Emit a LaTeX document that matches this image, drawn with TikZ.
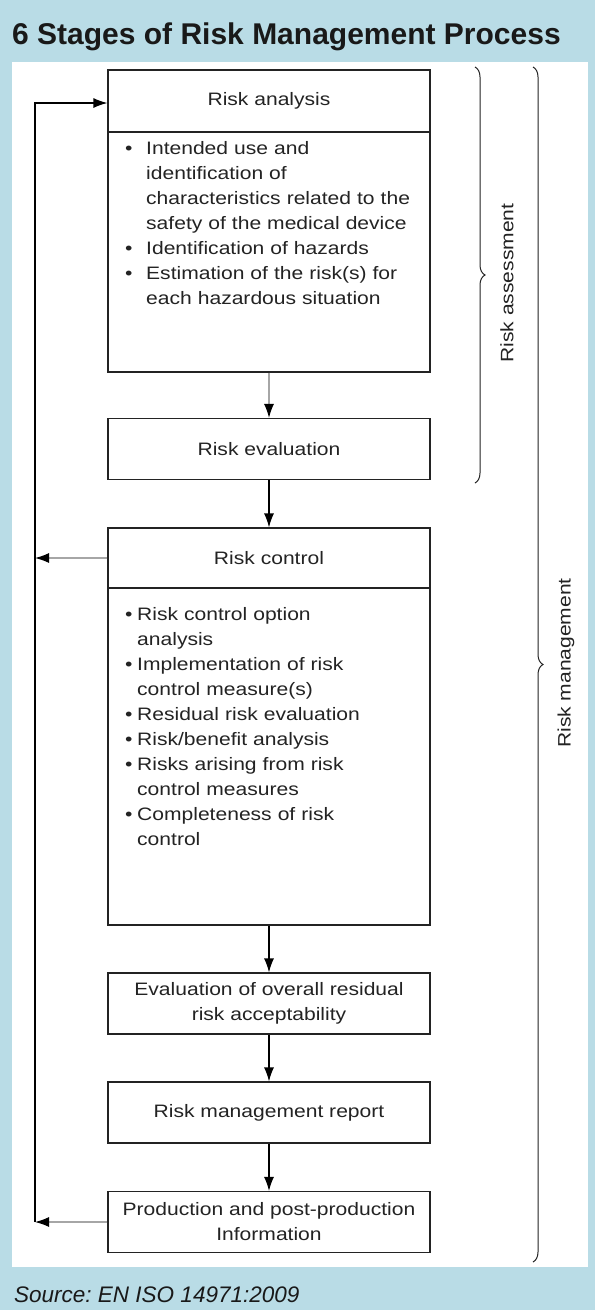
\documentclass[tikz,border=0pt]{standalone}
\usepackage{fontspec}
\setmainfont{Liberation Sans}
\newfontfamily\boxfont[FakeStretch=1.17]{Liberation Sans}
\usetikzlibrary{arrows.meta,decorations.pathreplacing,positioning}
\definecolor{panelblue}{RGB}{185,220,230}
\definecolor{inkgray}{RGB}{35,35,35}
\frenchspacing
\newcommand{\bitem}[2]{\noindent\hangindent=#1\hangafter=1\makebox[#1][l]{\textbullet}#2\par}
\tikzset{
  stagebox/.style={draw=inkgray, line width=1.2pt, minimum width=322pt, inner sep=0pt,
    align=center, text=inkgray, font=\boxfont\fontsize{18}{25}\selectfont},
  stagetext/.style={inner sep=0pt, align=center, text=inkgray, font=\boxfont\fontsize{18}{25}\selectfont},
  listtext/.style={inner sep=0pt, align=left, text width=295pt, anchor=north west,
    text=inkgray, font=\boxfont\fontsize{18}{25}\selectfont},
  flow/.style={draw=black, line width=1.2pt, -{Latex[length=14pt,width=10pt,color=black]}},
  feedflow/.style={flow, draw=black!35},
  bracket/.style={decorate, decoration={brace, amplitude=10pt}, draw=inkgray, line width=1pt}
}
\begin{document}
\begin{tikzpicture}[x=1pt, y=-1pt]
   \useasboundingbox (0,0) rectangle (595,1310);
   \fill[panelblue] (0,0) rectangle (595,1310);
   \fill[white] (12,62) rectangle (588,1267);
   \node[anchor=base west, inner sep=0pt, font=\bfseries\fontsize{30}{30}\selectfont, text=black!90] (title) at (12,44) {6 Stages of Risk Management Process};
   \node[anchor=base west, inner sep=0pt, font=\itshape\fontsize{22.5}{22.5}\selectfont, text=black!90] (source) at (14,1302) {Source: EN ISO 14971:2009};
   % risk analysis
   \node[stagebox, minimum height=302pt] (analysis) at (269,221) {};
   \node[stagetext] (analysishead) at (269,101) {Risk analysis};
   \draw[inkgray, line width=1.2pt] (analysis.west |- 0,132) -- (analysis.east |- 0,132);
   \node[listtext] (analysislist) at (125,141) {%
     \bitem{21pt}{Intended use and\newline identification of\newline characteristics related to the\newline safety of the medical device}
     \bitem{21pt}{Identification of hazards}
     \bitem{21pt}{Estimation of the risk(s) for\newline each hazardous situation}};
   % risk control
   \node[stagebox, minimum height=397pt] (control) at (269,726.5) {};
   \node[stagetext] (controlhead) at (269,558) {Risk control};
   \draw[inkgray, line width=1.2pt] (control.west |- 0,588) -- (control.east |- 0,588);
   \node[listtext] (controllist) at (125,607) {%
     \bitem{12pt}{Risk control option\newline analysis}
     \bitem{12pt}{Implementation of risk\newline control measure(s)}
     \bitem{12pt}{Residual risk evaluation}
     \bitem{12pt}{Risk/benefit analysis}
     \bitem{12pt}{Risks arising from risk\newline control measures}
     \bitem{12pt}{Completeness of risk\newline control}};
   % single stages
   \foreach \ypos/\name/\txt in {449/evaluation/{Risk evaluation},
       1003.5/overall/{Evaluation of overall residual\\risk acceptability},
       1112.5/report/{Risk management report},
       1222/production/{Production and post-production\\Information}}
   \node[stagebox, minimum height=61pt] (\name) at (269,\ypos) {\txt};
   \draw[feedflow] (analysis.south) -- (evaluation.north);
   \foreach \source/\dest in {evaluation/control, control/overall, overall/report, report/production}
   \draw[flow] (\source.south) -- (\dest.north);
   % feedback loop
   \coordinate (looptop) at (35,103);
   \coordinate (loopbot) at (35,1222);
   \draw[feedflow] (production.west) -- (loopbot);
   \draw[feedflow] (control.west |- controlhead) -- (looptop |- controlhead);
   \draw[flow] (loopbot) -- (looptop) -- (analysis.west |- looptop);
   % braces
   \draw[bracket] (475,67) -- (475,483);
   \draw[bracket] (533,67) -- (533,1262);
   \node[stagetext, rotate=90] (assesslabel) at (507,283) {Risk assessment};
   \node[stagetext, rotate=90] (mgmtlabel) at (566,663) {Risk management};
\end{tikzpicture}
\end{document}
